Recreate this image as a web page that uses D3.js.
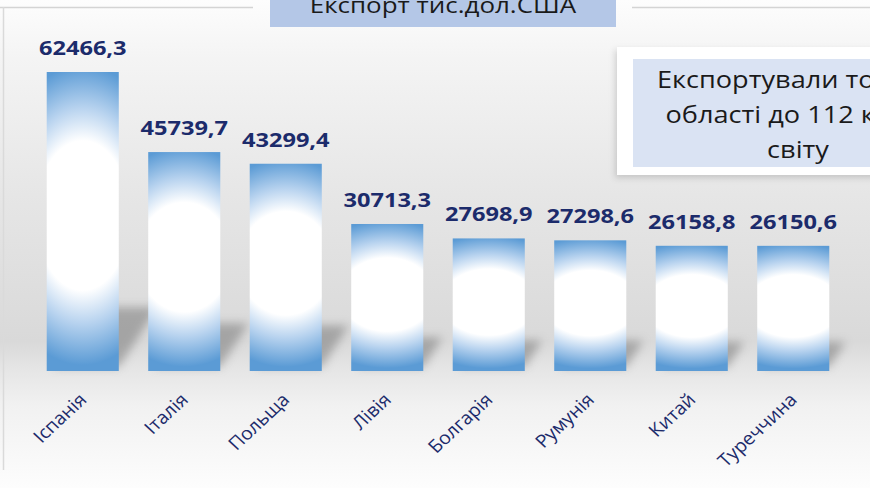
<!DOCTYPE html>
<html>
<head>
<meta charset="utf-8">
<script src="https://cdn.jsdelivr.net/npm/d3@7"></script>
<style>
  body { margin: 0; background: #fff; }
  svg { display: block; font-family: "Open Sans", "Noto Sans", sans-serif; }
</style>
</head>
<body>
<div id="chart-area"></div>
<script>
// data
var countries = ["Іспанія", "Італія", "Польща", "Лівія", "Болгарія", "Румунія", "Китай", "Туреччина"];
var exportValues = [62466.3, 45739.7, 43299.4, 30713.3, 27698.9, 27298.6, 26158.8, 26150.6];
var chartTitle = "Експорт тис.дол.США";
var noteLines = ["Експортували товари", "області до 112 країн", "світу"];

var width = 870, height = 488;
var stretch = 1.18; // the source picture is a bit wider than tall

var data = countries.map(function(c, i) { return { country: c, value: exportValues[i] }; });

var ua = d3.formatLocale({ decimal: ",", thousands: "", grouping: [3], currency: ["", ""] });
var fmt = ua.format(".1f");

var svg = d3.select("#chart-area")
  .append("svg")
    .attr("width", width)
    .attr("height", height);

var defs = svg.append("defs");

// back wall gradient
var bg = defs.append("linearGradient")
  .attr("id", "bg").attr("x1", 0).attr("y1", 0).attr("x2", 0).attr("y2", 1);
[[0, "#fdfdfd"], [0.12, "#f4f4f4"], [0.4, "#e6e6e6"], [0.7, "#d9d9d9"], [0.76, "#e6e6e6"],
 [0.83, "#f1f1f1"], [1, "#fdfdfd"]].forEach(function(s) {
  bg.append("stop").attr("offset", s[0]).attr("stop-color", s[1]);
});

// bar fill: white glow in the middle, blue at the ends
var barGrad = defs.append("radialGradient")
  .attr("id", "barFill")
  .attr("cx", 0.5).attr("cy", 0.48).attr("r", 0.5)
  .attr("gradientTransform", "translate(0.5,0.48) scale(2.6,1) translate(-0.5,-0.48)");
[[0, "#ffffff"], [0.5, "#ffffff"], [0.72, "#b8d3ef"], [1, "#5b9bd5"]].forEach(function(s) {
  barGrad.append("stop").attr("offset", s[0]).attr("stop-color", s[1]);
});

defs.append("filter").attr("id", "blur")
  .attr("x", "-50%").attr("y", "-50%").attr("width", "200%").attr("height", "200%")
  .append("feGaussianBlur").attr("stdDeviation", 5);

var boxShadow = defs.append("filter").attr("id", "boxShadow")
  .attr("x", "-10%").attr("y", "-10%").attr("width", "130%").attr("height", "130%");
boxShadow.append("feDropShadow").attr("dx", -2).attr("dy", 3).attr("stdDeviation", 3)
  .attr("flood-color", "#000").attr("flood-opacity", 0.15);

svg.append("rect")
  .attr("x", 0).attr("y", 0).attr("width", width).attr("height", height)
  .attr("fill", "url(#bg)");

// frame lines
svg.append("line").attr("x1", 0).attr("x2", 253).attr("y1", 7.5).attr("y2", 7.5)
  .attr("stroke", "#d4d4d4").attr("stroke-width", 1.5);
svg.append("line").attr("x1", 632).attr("x2", width).attr("y1", 7.5).attr("y2", 7.5)
  .attr("stroke", "#d4d4d4").attr("stroke-width", 1.5);
svg.append("line").attr("x1", 3.5).attr("x2", 3.5).attr("y1", 7).attr("y2", 470)
  .attr("stroke", "#dadada").attr("stroke-width", 1.5);

// scales
var x = d3.scaleBand()
  .domain(countries)
  .range([32, 844])
  .paddingInner(0.29)
  .paddingOuter(0.145);

var y = d3.scaleLinear()
  .domain([0, d3.max(exportValues)])
  .range([371, 72]);

var g = svg.append("g");

// shadows cast to the upper right
g.selectAll("polygon.shadow")
  .data(data)
  .enter().append("polygon")
    .attr("class", "shadow")
    .attr("points", function(d) {
      var x0 = x(d.country), x1 = x0 + x.bandwidth();
      var yb = y(0) - 4;
      var sh = (y(0) - y(d.value)) * 0.2;
      var dx = sh * 0.65;
      return [[x0 + 6, yb], [x1, yb], [x1 + dx, yb - sh], [x0 + dx, yb - sh]].join(" ");
    })
    .attr("fill", "#6f6f6f")
    .attr("opacity", 0.5)
    .attr("filter", "url(#blur)");

// bars
g.selectAll("rect.bar")
  .data(data)
  .enter().append("rect")
    .attr("class", "bar")
    .attr("x", function(d) { return x(d.country); })
    .attr("y", function(d) { return y(d.value); })
    .attr("width", x.bandwidth())
    .attr("height", function(d) { return y(0) - y(d.value); })
    .attr("fill", "url(#barFill)");

// value labels
g.selectAll("text.value")
  .data(data)
  .enter().append("text")
    .attr("class", "value")
    .attr("transform", function(d) {
      return "translate(" + (x(d.country) + x.bandwidth() / 2) + "," + (y(d.value) - 17) + ") scale(" + stretch + ",1)";
    })
    .attr("text-anchor", "middle")
    .attr("font-size", "20px")
    .attr("font-weight", "bold")
    .attr("fill", "#1c2b6b")
    .text(function(d) { return fmt(d.value); });

// category labels
g.selectAll("text.cat")
  .data(data)
  .enter().append("text")
    .attr("class", "cat")
    .attr("transform", function(d) {
      return "translate(" + (x(d.country) + x.bandwidth() / 2 + 5) + "," + 401 + ") scale(1.08,1) rotate(-45)";
    })
    .attr("text-anchor", "end")
    .attr("font-size", "18px")
    .attr("fill", "#1c2b6b")
    .text(function(d) { return d.country; });

// title box
svg.append("rect")
  .attr("x", 270).attr("y", -2).attr("width", 346).attr("height", 29)
  .attr("fill", "#b4c7e7");
svg.append("text")
  .attr("transform", "translate(443,13) scale(" + stretch + ",1)")
  .attr("text-anchor", "middle")
  .attr("font-size", "22px")
  .attr("fill", "#1a1a1a")
  .text(chartTitle);

// note box on the right
svg.append("rect")
  .attr("x", 617).attr("y", 47).attr("width", 270).attr("height", 128)
  .attr("fill", "#ffffff")
  .attr("filter", "url(#boxShadow)");
svg.append("rect")
  .attr("x", 633).attr("y", 59).attr("width", 250).attr("height", 108)
  .attr("fill", "#dae3f3");
svg.selectAll("text.note")
  .data(noteLines)
  .enter().append("text")
    .attr("class", "note")
    .attr("transform", function(d, i) { return "translate(798," + (88 + i * 35) + ") scale(" + stretch + ",1)"; })
    .attr("text-anchor", "middle")
    .attr("font-size", "23px")
    .attr("fill", "#1a1a1a")
    .text(function(d) { return d; });
</script>
</body>
</html>
